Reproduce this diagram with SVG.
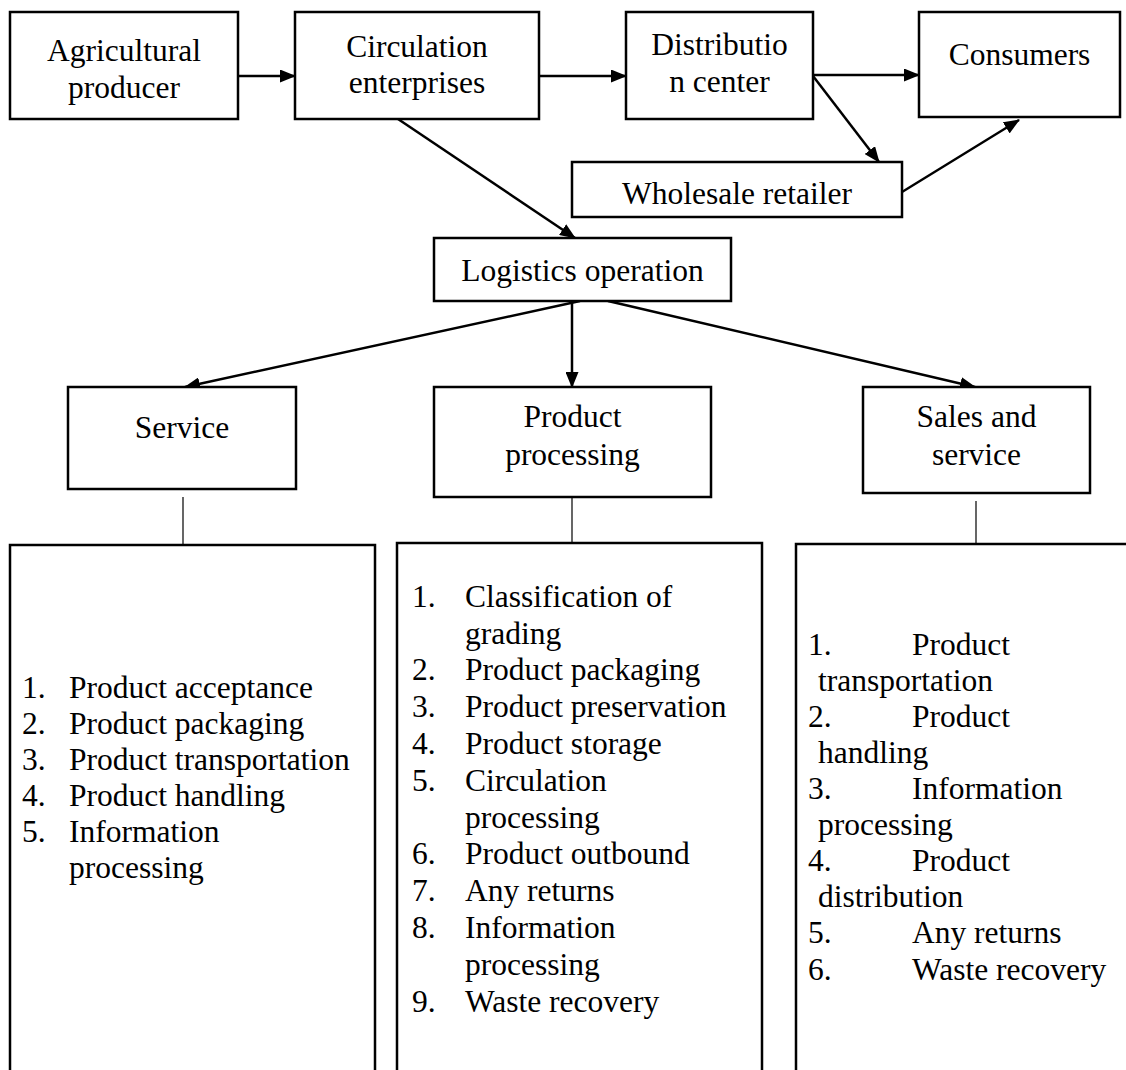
<svg xmlns="http://www.w3.org/2000/svg" width="1126" height="1070" viewBox="0 0 1126 1070">
  <style>
    .box { fill: #ffffff; stroke: #000000; stroke-width: 2.5; }
    .t { font-family: "Liberation Serif", "Times New Roman", serif; font-size: 31.5px; fill: #000000; }
    .c { text-anchor: middle; }
    .arrow { fill: none; stroke: #000000; stroke-width: 2.5; marker-end: url(#head); }
    .tick { fill: none; stroke: #000000; stroke-width: 1.2; }
  </style>
  <defs>
    <marker id="head" markerUnits="userSpaceOnUse" markerWidth="16" markerHeight="13" refX="15" refY="6.5" orient="auto">
      <path d="M0,0 L16,6.5 L0,13 z" fill="#000000"/>
    </marker>
  </defs>
  <rect x="0" y="0" width="1126" height="1070" fill="#ffffff"/>

  <!-- connectors -->
  <g id="connectors">
    <line class="arrow" x1="238" y1="76" x2="295" y2="76"/>
    <line class="arrow" x1="539" y1="76" x2="626" y2="76"/>
    <line class="arrow" x1="813" y1="75" x2="919" y2="75"/>
    <line class="arrow" x1="813" y1="76" x2="879" y2="162"/>
    <line class="arrow" x1="902" y1="192" x2="1019" y2="120"/>
    <line class="arrow" x1="398" y1="119" x2="575" y2="238"/>
    <line class="arrow" x1="580" y1="301" x2="185" y2="387"/>
    <line class="arrow" x1="572" y1="301" x2="572" y2="387"/>
    <line class="arrow" x1="608" y1="301" x2="975" y2="387"/>
    <line class="tick" x1="183" y1="497" x2="183" y2="548"/>
    <line class="tick" x1="572" y1="493" x2="572" y2="545"/>
    <line class="tick" x1="976" y1="501" x2="976" y2="548"/>
  </g>

  <!-- top row -->
  <g id="agricultural-producer">
    <rect class="box" x="10" y="12" width="228" height="107"/>
    <text class="t c" x="124" y="61">Agricultural</text>
    <text class="t c" x="124" y="98">producer</text>
  </g>
  <g id="circulation-enterprises">
    <rect class="box" x="295" y="12" width="244" height="107"/>
    <text class="t c" x="417" y="57">Circulation</text>
    <text class="t c" x="417" y="93">enterprises</text>
  </g>
  <g id="distribution-center">
    <rect class="box" x="626" y="12" width="187" height="107"/>
    <text class="t c" x="719.5" y="55">Distributio</text>
    <text class="t c" x="719.5" y="92">n center</text>
  </g>
  <g id="consumers">
    <rect class="box" x="919" y="12" width="201" height="105"/>
    <text class="t c" x="1019.5" y="65">Consumers</text>
  </g>
  <g id="wholesale-retailer">
    <rect class="box" x="572" y="162" width="330" height="55"/>
    <text class="t c" x="737" y="204">Wholesale retailer</text>
  </g>
  <g id="logistics-operation">
    <rect class="box" x="434" y="238" width="297" height="63"/>
    <text class="t c" x="582.5" y="281">Logistics operation</text>
  </g>

  <!-- middle row -->
  <g id="service">
    <rect class="box" x="68" y="387" width="228" height="102"/>
    <text class="t c" x="182" y="438">Service</text>
  </g>
  <g id="product-processing">
    <rect class="box" x="434" y="387" width="277" height="110"/>
    <text class="t c" x="572.5" y="427">Product</text>
    <text class="t c" x="572.5" y="465">processing</text>
  </g>
  <g id="sales-and-service">
    <rect class="box" x="863" y="387" width="227" height="106"/>
    <text class="t c" x="976.5" y="427">Sales and</text>
    <text class="t c" x="976.5" y="465">service</text>
  </g>

  <!-- task lists -->
  <g id="service-tasks">
    <rect class="box" x="10" y="545" width="365" height="540"/>
    <text class="t" x="22" y="698">1.</text><text class="t" x="69" y="698">Product acceptance</text>
    <text class="t" x="22" y="734">2.</text><text class="t" x="69" y="734">Product packaging</text>
    <text class="t" x="22" y="770">3.</text><text class="t" x="69" y="770">Product transportation</text>
    <text class="t" x="22" y="806">4.</text><text class="t" x="69" y="806">Product handling</text>
    <text class="t" x="22" y="842">5.</text><text class="t" x="69" y="842">Information</text>
    <text class="t" x="69" y="878">processing</text>
  </g>
  <g id="processing-tasks">
    <rect class="box" x="397" y="543" width="365" height="542"/>
    <text class="t" x="412" y="607">1.</text><text class="t" x="465" y="607">Classification of</text>
    <text class="t" x="465" y="644">grading</text>
    <text class="t" x="412" y="680">2.</text><text class="t" x="465" y="680">Product packaging</text>
    <text class="t" x="412" y="717">3.</text><text class="t" x="465" y="717">Product preservation</text>
    <text class="t" x="412" y="754">4.</text><text class="t" x="465" y="754">Product storage</text>
    <text class="t" x="412" y="791">5.</text><text class="t" x="465" y="791">Circulation</text>
    <text class="t" x="465" y="828">processing</text>
    <text class="t" x="412" y="864">6.</text><text class="t" x="465" y="864">Product outbound</text>
    <text class="t" x="412" y="901">7.</text><text class="t" x="465" y="901">Any returns</text>
    <text class="t" x="412" y="938">8.</text><text class="t" x="465" y="938">Information</text>
    <text class="t" x="465" y="975">processing</text>
    <text class="t" x="412" y="1012">9.</text><text class="t" x="465" y="1012">Waste recovery</text>
  </g>
  <g id="sales-tasks">
    <rect class="box" x="796" y="544" width="350" height="541"/>
    <text class="t" x="808" y="655">1.</text><text class="t" x="912" y="655">Product</text>
    <text class="t" x="818" y="691">transportation</text>
    <text class="t" x="808" y="727">2.</text><text class="t" x="912" y="727">Product</text>
    <text class="t" x="818" y="763">handling</text>
    <text class="t" x="808" y="799">3.</text><text class="t" x="912" y="799">Information</text>
    <text class="t" x="818" y="835">processing</text>
    <text class="t" x="808" y="871">4.</text><text class="t" x="912" y="871">Product</text>
    <text class="t" x="818" y="907">distribution</text>
    <text class="t" x="808" y="943">5.</text><text class="t" x="912" y="943">Any returns</text>
    <text class="t" x="808" y="980">6.</text><text class="t" x="912" y="980">Waste recovery</text>
  </g>
</svg>
